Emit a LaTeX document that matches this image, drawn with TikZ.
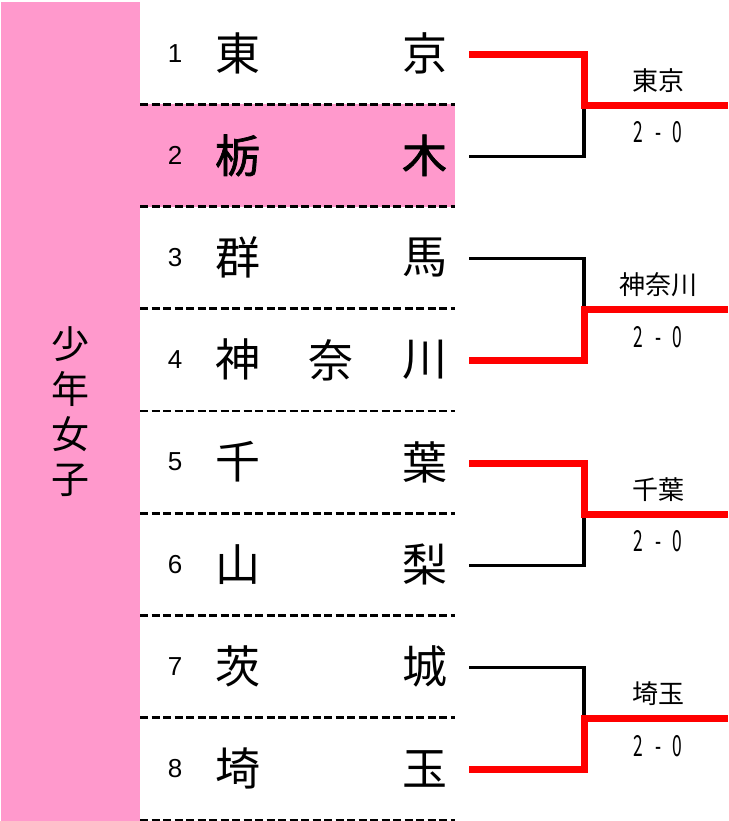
\documentclass[tikz,border=0pt]{standalone}
\usepackage{fontspec}
\setmainfont{Liberation Sans}
\newfontfamily\jp{Noto Sans CJK JP}
\newfontfamily\jpb[FakeBold=1.6]{Noto Sans CJK JP}
\usepackage{graphicx}
\definecolor{rowpink}{RGB}{255,153,204}
\definecolor{winred}{RGB}{255,0,0}
\begin{document}
\begin{tikzpicture}[x=1pt,y=-1pt,
  every node/.style={inner sep=0pt,outer sep=0pt},
  num/.style={font=\fontsize{26}{30}\selectfont},
  pref/.style={font=\jp\fontsize{45}{54}\selectfont},
  prefb/.style={font=\jpb\fontsize{45}{54}\selectfont},
  sep/.style={line width=2.8pt,dash pattern=on 8pt off 3.5pt},
  lose/.style={line width=3.5pt,black},
  win/.style={line width=7pt,winred},
  wlabel/.style={font=\jp\fontsize{26}{30}\selectfont},
  score/.style={font=\jp\fontsize{29}{32}\selectfont}
]
\useasboundingbox (0,0) rectangle (728,821);
% left column
\fill[rowpink] (1,2) rectangle (140,821);
\node[font=\jp\fontsize{38}{45}\selectfont,align=center] (cat) at (70,412) {少\\年\\女\\子};
% highlighted row 2
\fill[rowpink] (140,104.25) rectangle (455,206.5);
% separators
\foreach \k in {1,...,8}{
  \draw[sep] (140,{2+102.25*\k}) -- (455,{2+102.25*\k});
}
% rows
\def\rowy#1{{2+102.25*(#1-0.5)}}
\node[num] (n1) at (175,\rowy{1}) {1};
\node[pref,anchor=west] (a1) at (215,\rowy{1}) {東};
\node[pref,anchor=east] (b1) at (447,\rowy{1}) {京};
\node[num] (n2) at (175,\rowy{2}) {2};
\node[prefb,anchor=west] (a2) at (215,\rowy{2}) {栃};
\node[prefb,anchor=east] (b2) at (447,\rowy{2}) {木};
\node[num] (n3) at (175,\rowy{3}) {3};
\node[pref,anchor=west] (a3) at (215,\rowy{3}) {群};
\node[pref,anchor=east] (b3) at (447,\rowy{3}) {馬};
\node[num] (n4) at (175,\rowy{4}) {4};
\node[pref,anchor=west] (a4) at (215,\rowy{4}) {神};
\node[pref] (m4) at (331,\rowy{4}) {奈};
\node[pref,anchor=east] (b4) at (447,\rowy{4}) {川};
\node[num] (n5) at (175,\rowy{5}) {5};
\node[pref,anchor=west] (a5) at (215,\rowy{5}) {千};
\node[pref,anchor=east] (b5) at (447,\rowy{5}) {葉};
\node[num] (n6) at (175,\rowy{6}) {6};
\node[pref,anchor=west] (a6) at (215,\rowy{6}) {山};
\node[pref,anchor=east] (b6) at (447,\rowy{6}) {梨};
\node[num] (n7) at (175,\rowy{7}) {7};
\node[pref,anchor=west] (a7) at (215,\rowy{7}) {茨};
\node[pref,anchor=east] (b7) at (447,\rowy{7}) {城};
\node[num] (n8) at (175,\rowy{8}) {8};
\node[pref,anchor=west] (a8) at (215,\rowy{8}) {埼};
\node[pref,anchor=east] (b8) at (447,\rowy{8}) {玉};
% bracket end points
\foreach \i in {1,...,8}{
  \coordinate (e\i) at (469,{2+102.25*(\i-0.5)+1});
}
\foreach \j/\k in {1/1,2/3,3/5,4/7}{
  \coordinate (j\j) at (584,{2+102.25*\k+1});
  \coordinate (o\j) at (728,{2+102.25*\k+1});
}
% losers (black)
\draw[lose] (e2) -| (j1);
\draw[lose] (e3) -| (j2);
\draw[lose] (e6) -| (j3);
\draw[lose] (e7) -| (j4);
% winners (red)
\draw[win] (e1) -| (j1) -- (o1);
\draw[win] (e4) -| (j2) -- (o2);
\draw[win] (e5) -| (j3) -- (o3);
\draw[win] (e8) -| (j4) -- (o4);
% labels
\foreach \j/\k/\t in {1/1/東京,2/3/神奈川,3/5/千葉,4/7/埼玉}{
  \node[wlabel] (w\j) at (658,{2+102.25*\k-24}) {\t};
  \node[score] (s\j) at (658,{2+102.25*\k+28}) {\scalebox{0.6}[1]{2\hspace{20pt}-\hspace{18pt}0}};
}
\end{tikzpicture}
\end{document}
